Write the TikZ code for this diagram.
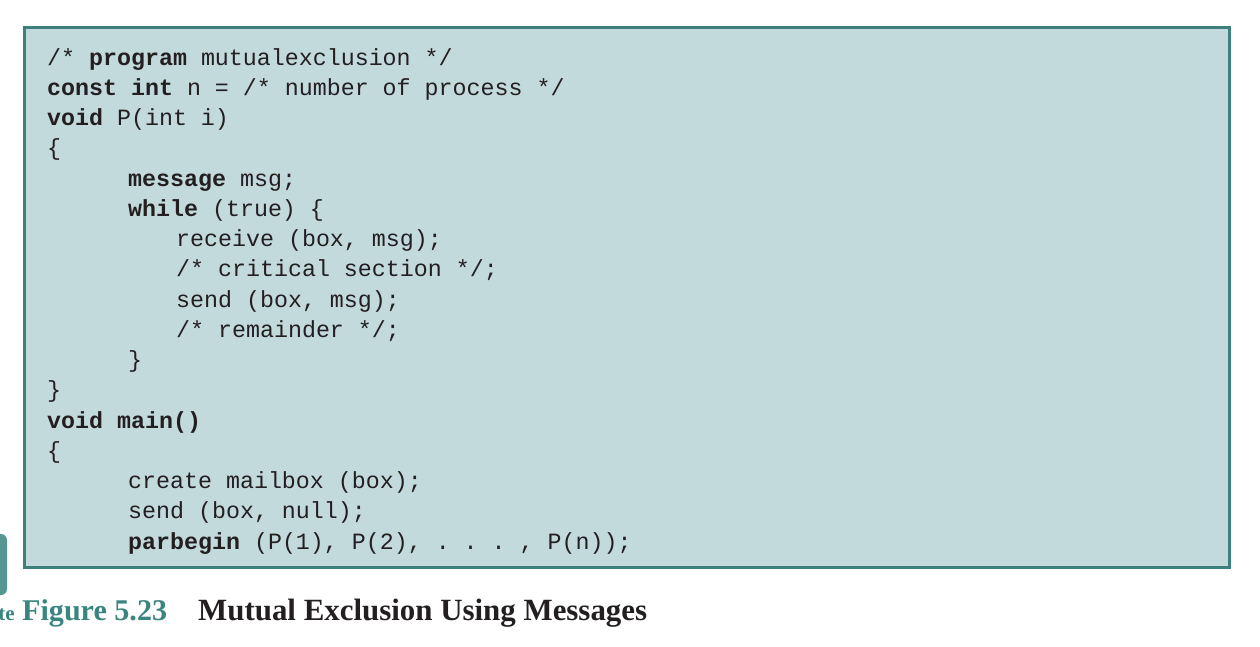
\documentclass[tikz,border=0pt]{standalone}
\usepackage{fontspec}
\setmainfont{Liberation Serif}
\setmonofont{Liberation Mono}

\definecolor{boxfill}{HTML}{C3DADD}
\definecolor{boxrule}{HTML}{3E807C}
\definecolor{figteal}{HTML}{3A8580}
\definecolor{codeink}{HTML}{231F20}

\newcommand{\kw}[1]{\textbf{#1}}

\tikzset{
  codeline/.style={anchor=base west, inner sep=0pt, text=codeink,
    font=\fontsize{23.3}{28}\selectfont\ttfamily},
  captext/.style={anchor=base west, inner sep=0pt,
    font=\fontsize{30.1}{36}\selectfont\bfseries},
}

\begin{document}
\begin{tikzpicture}[x=1pt,y=-1pt]
\useasboundingbox (0,0) rectangle (1260,646);
\clip (0,0) rectangle (1260,646);

%--- Side tab, cut off at the left edge ---
\fill[figteal!85, rounded corners=6pt] (-20,534) rectangle (7,595);

%--- Code box ---
\filldraw[fill=boxfill, draw=boxrule, line width=3pt] (24,27) rectangle (1229,567);

% Process P
\node[codeline] (l1)  at (47,65)     {/* \kw{program} mutualexclusion */};
\node[codeline] (l2)  at (47,95.25)  {\kw{const int} n = /* number of process */};
\node[codeline] (l3)  at (47,125.5)  {\kw{void} P(int i)};
\node[codeline] (l4)  at (47,155.75) {\{};
\node[codeline] (l5)  at (128,186)   {\kw{message} msg;};
\node[codeline] (l6)  at (128,216.25){\kw{while} (true) \{};
\node[codeline] (l7)  at (176,246.5) {receive (box, msg);};
\node[codeline] (l8)  at (176,276.75){/* critical section */;};
\node[codeline] (l9)  at (176,307)   {send (box, msg);};
\node[codeline] (l10) at (176,337.25){/* remainder */;};
\node[codeline] (l11) at (128,367.5) {\}};
\node[codeline] (l12) at (47,397.75) {\}};

% Main
\node[codeline] (l13) at (47,428)    {\kw{void main()}};
\node[codeline] (l14) at (47,458.25) {\{};
\node[codeline] (l15) at (128,488.5) {create mailbox (box);};
\node[codeline] (l16) at (128,518.75){send (box, null);};
\node[codeline] (l17) at (128,549)   {\kw{parbegin} (P(1), P(2), . . . , P(n));};

%--- Caption ---
\node[anchor=base east, inner sep=0pt, text=figteal,
  font=\fontsize{21}{22}\selectfont\bfseries] (tabnote) at (15,620) {te};
\node[captext, text=figteal] (figno) at (22,620) {Figure 5.23};
\node[captext, text=codeink, font=\fontsize{30.9}{36}\selectfont\bfseries] (figtitle) at (198,620) {Mutual Exclusion Using Messages};

\end{tikzpicture}
\end{document}
